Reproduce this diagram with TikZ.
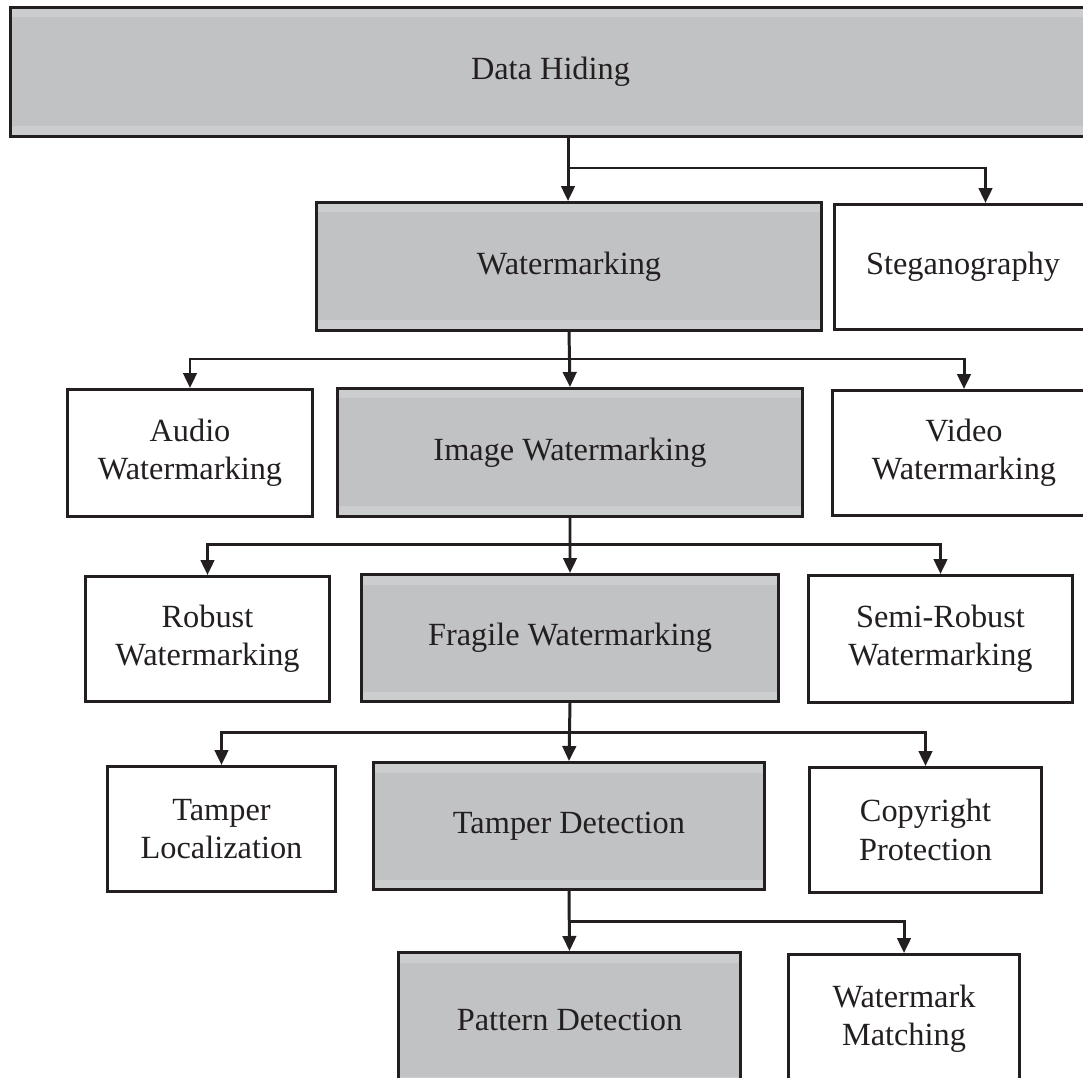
\documentclass[tikz,border=0pt]{standalone}
\usepackage{fontspec}
\setmainfont{Liberation Serif}
\usetikzlibrary{arrows.meta}
\definecolor{ink}{HTML}{231F20}
\definecolor{boxgray}{HTML}{C1C2C4}
\definecolor{bandgray}{HTML}{CCCDCF}
\tikzset{
  base/.style={draw=ink, line width=0.85pt, anchor=north west, inner sep=0pt,
    align=center, text=ink, font=\fontsize{9.2}{10.9}\selectfont},
  whitebox/.style={base, fill=white},
  graybox/.style={base, fill=boxgray,
    path picture={
      \fill[bandgray] (path picture bounding box.north west) rectangle ([yshift=-0.1cm]path picture bounding box.north east);
      \fill[bandgray] (path picture bounding box.south west) rectangle ([yshift=0.1cm]path picture bounding box.south east);
    }},
  conn/.style={draw=ink, line width=0.85pt, line join=miter},
  arr/.style={conn, -{Triangle[width=0.135cm,length=0.15cm]}}
}
\begin{document}
\begin{tikzpicture}
\useasboundingbox (0,0) rectangle (10.83,-10.77);
\fill[white] (0,0) rectangle (10.83,-10.77);
\node[graybox, minimum width=10.80cm, minimum height=1.29cm] (dh) at (0.09,-0.06) {Data Hiding};
\node[graybox, minimum width=5.05cm, minimum height=1.28cm] (wm) at (3.15,-2.01) {Watermarking};
\node[whitebox, minimum width=2.57cm, minimum height=1.25cm] (st) at (8.33,-2.03) {Steganography};
\node[whitebox, minimum width=2.45cm, minimum height=1.27cm] (au) at (0.66,-3.88) {Audio\\Watermarking};
\node[graybox, minimum width=4.65cm, minimum height=1.28cm] (im) at (3.36,-3.87) {Image Watermarking};
\node[whitebox, minimum width=2.63cm, minimum height=1.25cm] (vi) at (8.31,-3.89) {Video\\Watermarking};
\node[whitebox, minimum width=2.44cm, minimum height=1.25cm] (ro) at (0.84,-5.75) {Robust\\Watermarking};
\node[graybox, minimum width=4.17cm, minimum height=1.27cm] (fr) at (3.60,-5.73) {Fragile Watermarking};
\node[whitebox, minimum width=2.64cm, minimum height=1.27cm] (se) at (8.07,-5.74) {Semi-Robust\\Watermarking};
\node[whitebox, minimum width=2.28cm, minimum height=1.25cm] (tl) at (1.06,-7.65) {Tamper\\Localization};
\node[graybox, minimum width=3.91cm, minimum height=1.27cm] (td) at (3.72,-7.61) {Tamper Detection};
\node[whitebox, minimum width=2.32cm, minimum height=1.25cm] (co) at (8.08,-7.66) {Copyright\\Protection};
\node[graybox, minimum width=3.42cm, minimum height=1.34cm] (pa) at (3.97,-9.51) {Pattern Detection};
\node[whitebox, minimum width=2.31cm, minimum height=1.29cm] (wmm) at (7.87,-9.53) {Watermark\\Matching};
\coordinate (j1) at (5.68,-1.68);
\coordinate (j2) at (5.68,-3.59);
\coordinate (j3) at (5.68,-5.44);
\coordinate (j4) at (5.68,-7.32);
\coordinate (j5) at (5.68,-9.21);
\draw[arr] (dh.south -| j1) -- (j1 |- wm.north);
\draw[arr] (j1) -| ([xshift=0.225cm]st.north);
\draw[arr] (wm.south) -- (im.north);
\draw[arr] (j2) -| (au.north);
\draw[arr] (j2) -| (vi.north);
\draw[arr] (im.south) -- (fr.north);
\draw[arr] (j3) -| (ro.north);
\draw[arr] (j3) -| (se.north);
\draw[arr] (fr.south) -- (td.north);
\draw[arr] (j4) -| (tl.north);
\draw[arr] (j4) -| (co.north);
\draw[arr] (td.south) -- (pa.north);
\draw[arr] (j5) -| (wmm.north);
\end{tikzpicture}
\end{document}
